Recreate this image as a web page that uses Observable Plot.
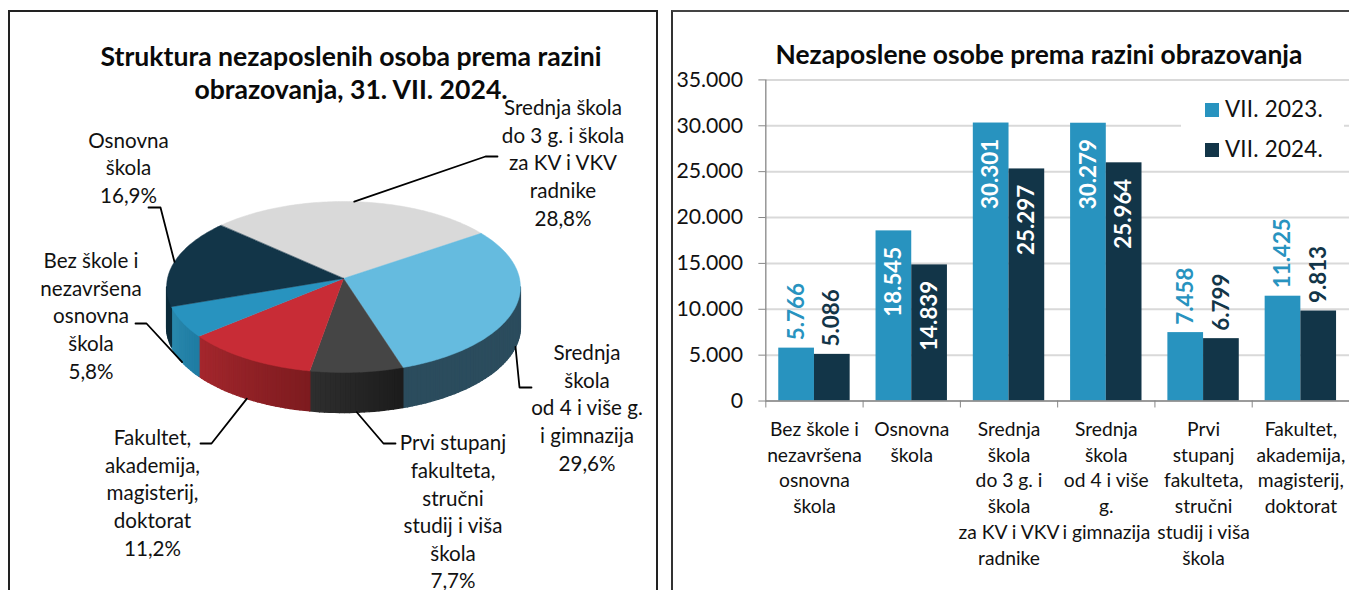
<!DOCTYPE html>
<html lang="hr">
<head>
<meta charset="utf-8">
<script src="https://cdn.jsdelivr.net/npm/d3@7"></script>
<script src="https://cdn.jsdelivr.net/npm/@observablehq/plot@0.6"></script>
<style>
  html, body { margin: 0; padding: 0; background: #fff; width: 1349px; height: 590px; overflow: hidden; font-family: Lato, sans-serif; color: #111; }
  .frame { position: absolute; top: 10px; box-sizing: border-box; border-top: 2px solid #222; height: 600px; }
  #frameL { left: 8px; width: 650px; border-left: 2px solid #222; border-right: 2px solid #222; }
  #frameR { left: 671px; width: 700px; border-left: 2px solid #333; border-top-color: #444; }
  .chart { position: absolute; top: 0; }
  .chart svg { display: block; overflow: visible; }
  .title { position: absolute; font-weight: 700; text-align: center; color: #0a0a0a; white-space: nowrap; }
  #legend { position: absolute; left: 1181px; top: 85px; width: 163px; height: 80px; background: #fff; }
  #legend .sw { position: absolute; left: 24px; width: 14px; height: 14px; }
  #legend .tx { position: absolute; left: 44px; font-size: 22.4px; line-height: 26px; white-space: nowrap; letter-spacing: .2px; }
</style>
</head>
<body>
<div class="frame" id="frameL"></div>
<div class="frame" id="frameR"></div>
<div class="chart" id="pie" style="left:0"></div>
<div class="chart" id="bars" style="left:673px"></div>
<div class="title" id="t1" style="left:51px;width:600px;top:40px;font-size:26.6px;line-height:33px">Struktura nezaposlenih osoba prema razini<br>obrazovanja, 31. VII. 2024.</div>
<div class="title" id="t2" style="left:739px;width:600px;top:38px;font-size:26.4px;line-height:32px">Nezaposlene osobe prema razini obrazovanja</div>
<div id="legend"></div>
<script>
// ---------- bar chart data ----------
const categories = [
  "Bez škole i\nnezavršena\nosnovna\nškola",
  "Osnovna\nškola",
  "Srednja\nškola\ndo 3 g. i\nškola\nza KV i VKV\nradnike",
  "Srednja\nškola\nod 4 i više\ng.\ni gimnazija",
  "Prvi\nstupanj\nfakulteta,\nstručni\nstudij i viša\nškola",
  "Fakultet,\nakademija,\nmagisterij,\ndoktorat"
];
const seriesNames = ["VII. 2023.", "VII. 2024."];
const values2023 = [5766, 18545, 30301, 30279, 7458, 11425];
const values2024 = [5086, 14839, 25297, 25964, 6799, 9813];
const seriesColors = ["#2893bf", "#123548"];

// ---------- pie chart data (clockwise, starting with the grey slice) ----------
const pieNames = [
  "Srednja škola\ndo 3 g. i škola\nza KV i VKV\nradnike",
  "Srednja\nškola\nod 4 i više g.\ni gimnazija",
  "Prvi stupanj\nfakulteta,\nstručni\nstudij i viša\nškola",
  "Fakultet,\nakademija,\nmagisterij,\ndoktorat",
  "Bez škole i\nnezavršena\nosnovna\nškola",
  "Osnovna\nškola"
];
const pieShares = [28.8, 29.6, 7.7, 11.2, 5.8, 16.9];
const pieTop = ["#d9d9d9", "#65bbdf", "#454545", "#c82c36", "#2893bf", "#123548"];
const wallFrom = ["#b0b0b0", "#2b4c5d", "#2e2e2e", "#a5272d", "#2a89ad", "#0c2b3a"];
const wallTo   = ["#b0b0b0", "#2b4c5d", "#1c1c1c", "#7d1b1f", "#1f7ba3", "#0c2b3a"];

// ---------- pie layout (pixels of the picture) ----------
const pieCx = 343, pieCy = 278, pieRx = 176, pieRy = 84.65, persp = 0.0994, pieDepth = 40;
const startDeg = -48;
const labelCentres = [[562.5, 161], [586.5, 406], [452.5, 510], [152, 491], [90.5, 314], [128, 166]];
const leaderElbows = [[[485,156],[497,156]], [[519,387],[531,387]], [[383,443],[395,443]],
                      [[211,443],[200,443]], [[146,323],[135,323]], [[160,207],[148,207]]];

// px <-> unit coordinates of the pie plot
const ux = px => (px - pieCx) / pieRx;
const uy = py => (pieCy - py) / pieRy;
const depthU = pieDepth / pieRy;
const rad = d => d * Math.PI / 180;
function rim(deg) {
  const u = Math.sin(rad(deg)), v = Math.cos(rad(deg)), s = 1 / (1 + persp * v);
  return [u * s, v * s];
}
const total = d3.sum(pieShares);
let acc = startDeg;
const slices = pieShares.map((p, i) => {
  const a0 = acc, a1 = acc + p / total * 360;
  acc = a1;
  return {i, a0, a1, mid: (a0 + a1) / 2};
});
const wallStart = 90 + Math.asin(persp) * 180 / Math.PI, wallEnd = 360 - wallStart;

const wallPolys = [], topPolys = [];
let pid = 0;
for (const s of slices) {
  const lo = Math.max(s.a0, wallStart), hi = Math.min(s.a1, wallEnd);
  if (hi <= lo) continue;
  const mix = d3.interpolateRgb(wallFrom[s.i], wallTo[s.i]);
  const n = Math.max(1, Math.ceil((hi - lo) / 1.5));
  for (let k = 0; k < n; k++) {
    const d0 = lo + (hi - lo) * k / n, d1 = lo + (hi - lo) * (k + 1) / n;
    const [x0, y0] = rim(d0), [x1, y1] = rim(d1);
    const col = mix(1 - (k + .5) / n);
    const id = pid++;
    wallPolys.push({id, col, x: x0, y: y0}, {id, col, x: x1, y: y1},
                   {id, col, x: x1, y: y1 - depthU}, {id, col, x: x0, y: y0 - depthU});
  }
}
for (const s of slices) {
  const id = pid++, col = pieTop[s.i];
  topPolys.push({id, col, x: 0, y: 0});
  const n = Math.ceil(s.a1 - s.a0);
  for (let k = 0; k <= n; k++) {
    const [x, y] = rim(s.a0 + (s.a1 - s.a0) * k / n);
    topPolys.push({id, col, x, y});
  }
}
// leaders start on the visible rim at each slice's middle angle
const leaders = [];
for (const s of slices) {
  const [x, y] = rim(s.mid);
  const onFront = s.mid > wallStart && s.mid < wallEnd;
  leaders.push({k: s.i, x, y: onFront ? y - depthU : y});
  for (const [ex, ey] of leaderElbows[s.i]) leaders.push({k: s.i, x: ux(ex), y: uy(ey)});
}
const pct = d3.formatLocale({decimal: ",", thousands: ".", grouping: [3], currency: ["", ""]}).format(".1f");
const pieLabels = slices.map(s => ({
  x: ux(labelCentres[s.i][0]), y: uy(labelCentres[s.i][1]),
  text: pieNames[s.i] + "\n" + pct(pieShares[s.i]) + "%"
}));

document.getElementById("pie").append(Plot.plot({
  width: 665, height: 590, margin: 0,
  style: {fontFamily: "Lato, sans-serif", background: "transparent", overflow: "visible"},
  x: {domain: [-1, 1], range: [pieCx - pieRx, pieCx + pieRx], axis: null},
  y: {domain: [-1, 1], range: [pieCy + pieRy, pieCy - pieRy], axis: null},
  color: {type: "identity"},
  marks: [
    Plot.line(wallPolys, {x: "x", y: "y", z: "id", fill: "col", stroke: "col", strokeWidth: 1.4, curve: "linear-closed"}),
    Plot.line(topPolys, {x: "x", y: "y", z: "id", fill: "col", stroke: "col", strokeWidth: 0.5, curve: "linear-closed"}),
    Plot.line(leaders, {x: "x", y: "y", z: "k", stroke: "#000", strokeWidth: 1.8}),
    Plot.text(pieLabels, {x: "x", y: "y", text: "text", fontSize: 20.6, lineHeight: 1.34, fill: "#111", textAnchor: "middle"})
  ]
}));

// ---------- bars ----------
const fmt = d3.formatLocale({decimal: ",", thousands: ".", grouping: [3], currency: ["", ""]}).format(",d");
const yTicks = d3.range(0, 35001, 5000);
const barRows = [];
categories.forEach((c, i) => {
  barRows.push({i, series: seriesNames[0], value: values2023[i], x1: i + 0.133, x2: i + 0.5});
  barRows.push({i, series: seriesNames[1], value: values2024[i], x1: i + 0.5, x2: i + 0.867});
});
const insideMin = 14000;
const outside = barRows.filter(d => d.value < insideMin);
const inside = barRows.filter(d => d.value >= insideMin);
const centre = d => (d.x1 + d.x2) / 2;

document.getElementById("bars").append(Plot.plot({
  width: 681, height: 590,
  marginLeft: 93, marginRight: 0, marginTop: 80, marginBottom: 186.5,
  style: {fontFamily: "Lato, sans-serif", background: "transparent", color: "#111", overflow: "visible"},
  x: {domain: [0, 6], axis: null},
  y: {domain: [0, 35000], axis: null},
  color: {domain: seriesNames, range: seriesColors},
  marks: [
    Plot.gridY({ticks: yTicks, stroke: "#d9d9d9", strokeOpacity: 1, strokeWidth: 2}),
    Plot.rectY(barRows, {x1: "x1", x2: "x2", y1: 0, y2: "value", fill: "series"}),
    Plot.ruleX([0], {stroke: "#868686", strokeWidth: 1.3}),
    Plot.ruleY([0], {stroke: "#868686", strokeWidth: 1.5}),
    Plot.axisY({ticks: yTicks, tickFormat: fmt, tickSize: 7, tickPadding: 16, fontSize: 21.4, stroke: "#868686", label: null, fill: "#111"}),
    Plot.axisX({ticks: d3.range(0, 7), tickFormat: () => "", tickSize: 7, stroke: "#868686", label: null}),
    Plot.axisX({ticks: categories.map((c, i) => i + 0.5), tickFormat: v => categories[v - 0.5], tickSize: 0, tickPadding: 16.5, fontSize: 19.4, lineHeight: 1.34, label: null, fill: "#111"}),
    Plot.text(inside, {x: centre, y: "value", text: d => fmt(d.value), rotate: -90, textAnchor: "end", dy: 16, fill: "#fff", fontWeight: 700, fontSize: 22.5}),
    Plot.text(outside, {x: centre, y: "value", text: d => fmt(d.value), rotate: -90, textAnchor: "start", dy: -8, fill: "series", fontWeight: 700, fontSize: 22.5})
  ]
}));

// ---------- legend ----------
const legend = document.getElementById("legend");
seriesNames.forEach((name, i) => {
  const sw = document.createElement("div");
  sw.className = "sw"; sw.style.background = seriesColors[i]; sw.style.top = (18 + i * 40) + "px";
  const tx = document.createElement("div");
  tx.className = "tx"; tx.textContent = name; tx.style.top = (11 + i * 40) + "px";
  legend.append(sw, tx);
});
</script>
</body>
</html>
